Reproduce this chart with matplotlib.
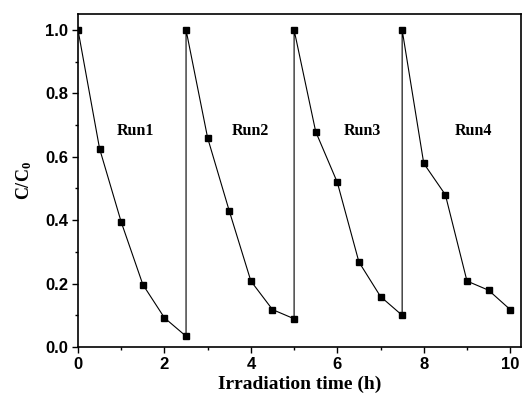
import matplotlib.pyplot as plt
import numpy as np

plt.rcParams["mathtext.fontset"] = "custom"
plt.rcParams["mathtext.rm"] = "Liberation Serif:bold"
plt.rcParams["mathtext.bf"] = "Liberation Serif:bold"
plt.rcParams["mathtext.it"] = "Liberation Serif:bold"

# irradiation time for each run (h) and C/C0 values
run_times = [
    [0, 0.5, 1.0, 1.5, 2.0, 2.5],
    [2.5, 3.0, 3.5, 4.0, 4.5, 5.0],
    [5.0, 5.5, 6.0, 6.5, 7.0, 7.5],
    [7.5, 8.0, 8.5, 9.0, 9.5, 10.0],
]
run1 = [1.0, 0.625, 0.394, 0.197, 0.092, 0.034]
run2 = [1.0, 0.659, 0.429, 0.208, 0.118, 0.089]
run3 = [1.0, 0.679, 0.519, 0.268, 0.159, 0.100]
run4 = [1.0, 0.579, 0.480, 0.208, 0.179, 0.118]
run_labels = ["Run1", "Run2", "Run3", "Run4"]
label_x = [1.34, 3.98, 6.57, 9.16]
label_y = 0.68

x = np.concatenate(run_times)
y = np.concatenate([run1, run2, run3, run4])

fig = plt.figure(figsize=(5.22, 4.01), dpi=100)
ax = fig.add_axes([78/522, 1 - 347/401, (521-78)/522, (347-14)/401])

ax.plot(x, y, color="black", lw=0.8, marker="s", ms=4.5,
        markerfacecolor="black", markeredgecolor="black")

for lab, lx in zip(run_labels, label_x):
    ax.text(lx, label_y, lab, family="Liberation Serif", weight="bold",
            fontsize=11.5, ha="center", va="center")

ax.set_xlim(0, 10.25)
ax.set_ylim(0, 1.05)
ax.set_xticks(np.arange(0, 11, 2))
ax.set_xticks(np.arange(1, 10, 2), minor=True)
ax.set_yticks(np.arange(0, 1.01, 0.2))
ax.set_yticks(np.arange(0.1, 1.0, 0.2), minor=True)
ax.set_yticklabels(["%.1f" % v for v in np.arange(0, 1.01, 0.2)])

ax.tick_params(which="both", direction="out", top=False, right=False)
ax.tick_params(which="major", length=4, width=1, pad=3)
ax.tick_params(which="minor", length=2.5, width=1)
for lbl in ax.get_xticklabels() + ax.get_yticklabels():
    lbl.set_family("Liberation Sans")
    lbl.set_weight("bold")
    lbl.set_fontsize(12)
for sp in ax.spines.values():
    sp.set_linewidth(1.2)

ax.set_xlabel("Irradiation time (h)", family="Liberation Serif",
              weight="bold", fontsize=14, labelpad=3)
ax.set_ylabel(r"C/C$_{0}$", family="Liberation Serif",
              weight="bold", fontsize=13, labelpad=8)

fig.savefig("out.png", dpi=100)
